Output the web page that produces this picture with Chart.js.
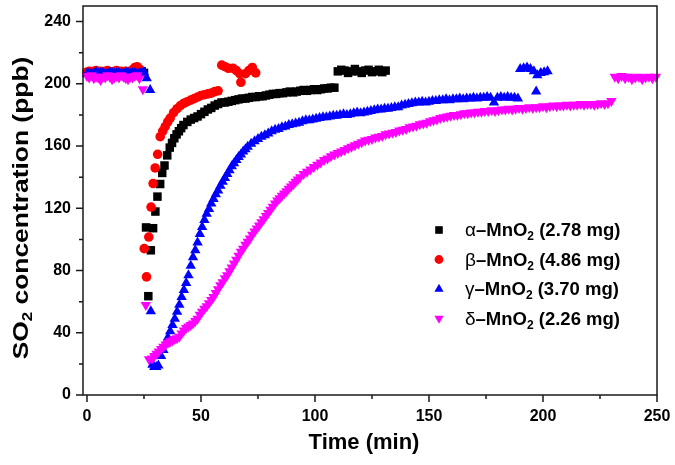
<!DOCTYPE html>
<html>
<head>
<meta charset="utf-8">
<script src="https://cdn.jsdelivr.net/npm/chart.js@4.4.0/dist/chart.umd.min.js"></script>
<style>
    html, body { margin: 0; padding: 0; background: #fff; }
</style>
</head>
<body>
<canvas id="so2Chart" width="675" height="465"></canvas>
<script>
// axis ticks
var xTicks = [0, 50, 100, 150, 200, 250];
var xMinorTicks = [25, 75, 125, 175, 225];
var yTicks = [0, 40, 80, 120, 160, 200, 240];
var yMinorTicks = [20, 60, 100, 140, 180, 220];

// legend
var seriesGreek = ['\u03b1', '\u03b2', '\u03b3', '\u03b4'];
var seriesMass = ['2.78', '4.86', '3.70', '2.26'];
var seriesColors = ['#000000', '#ff0000', '#0000ff', '#ff00ff'];

// alpha-MnO2 (min / ppb)
var alphaTime = [
    0, 1, 2, 3, 4, 5, 6, 7, 8, 9, 10, 11, 12, 13, 14, 15, 16, 17, 18, 19, 20, 21, 22, 23, 24, 25,
    25.9, 26.9, 28, 29, 30, 30.9, 32.1, 33, 34, 35.2, 36.3, 37.3, 38.3, 39.3, 40.3, 41.3, 42.3,
    44, 45.5, 47, 48.5, 50, 51.5, 53, 54.5, 56, 57.5, 59, 60.5, 62, 63.5, 65, 66.5, 68, 69.5, 71, 72.5, 74, 75.5,
    77, 78.5, 80, 81.5, 83, 84.5, 86, 87.5, 89, 90.5, 92, 93.5, 95, 96.5, 98, 99.5, 101, 102.5, 104, 105.5, 107, 108.5,
    110, 111.5, 113, 114.5, 116, 117.5, 119, 120.5, 122, 123.5, 125, 126.5, 128, 129.5, 131
];
var alphaSO2 = [
    207, 207.5, 207, 208, 207.5, 207, 207.5, 208, 207, 207, 207.5, 207, 208, 207.5, 207, 207, 208, 207.5, 207, 207.5, 208, 207.5, 207, 207.5, 208, 207,
    107.7, 63.5, 93, 107.2, 117.9, 127.5, 135.6, 142.7, 147.5, 154, 159, 162, 165, 167.5, 169.5, 171.5, 173.5,
    175.5, 177, 178, 179, 180.5, 182, 183.5, 184.5, 186, 187, 188, 188, 188.5, 189, 189.5, 190, 190.5, 190.5, 191, 191.5, 191.5,
    192, 192, 192.5, 193, 193.5, 193.5, 194, 194, 194.5, 195, 194.5, 195, 195.5, 196, 195.5, 196, 196.5, 196, 196.5, 197, 197, 197.5, 197.5,
    208, 209, 208.5, 207, 208, 209.5, 208, 207, 208.5, 209, 207.5, 208, 209, 207.5, 208.5
];

// beta-MnO2
var betaTime = [
    0, 1, 2, 3, 4, 5, 6, 7, 8, 9, 10, 11, 12, 13, 14, 15, 16, 17, 18, 19,
    20, 21, 22, 23, 24,
    25.1, 26.1, 27.1, 28.1, 29, 29.9, 31, 32.1, 33.2, 34.3, 35.4, 36.5,
    38, 39.5, 41, 42.5, 44, 45.5, 47, 48.5, 50, 51.5, 53, 54.5, 56, 57.5,
    59.1, 60.5, 62, 64, 65.5, 67, 67.5, 69.5, 71, 72.5, 74
];
var betaSO2 = [
    207.5, 208, 207.5, 208, 208.5, 207.5, 208, 207.5, 208, 208.5, 207.5, 207, 208, 208.5, 207.5, 208, 207.5, 208, 207, 208,
    209, 210.5, 211, 209.5, 207.5,
    94.1, 75.9, 101.5, 120.8, 135.9, 145.9, 154.7, 166, 169.5, 172.5, 175.5, 178,
    181.5, 184, 186, 187.5, 188.5, 189.5, 190.5, 191.5, 192.5, 193, 193.5, 194, 195, 195.5,
    212, 211, 210, 210, 208.5, 206.5, 201, 206.5, 208.5, 210.5, 207
];

// gamma-MnO2
var gammaTime = [
    0, 1, 2, 3, 4, 5, 6, 7, 8, 9, 10, 11, 12, 13, 14, 15, 16, 17, 18, 19, 20, 21, 22, 23, 24,
    25, 26.2, 27.7,
    28, 28.7, 29.5, 30.4, 31.3,
    32.5, 33.5, 34.5, 35.5, 36.5, 37.5, 38.5, 39.5, 40.5, 41.5, 42.5, 43.5, 44.5, 45.5, 46.5, 47.5, 48.5, 49.5, 50.5, 51.5,
    52.5, 53.5, 54.5, 55.5, 56.5, 57.5, 58.5, 59.5, 60.5, 61.5, 62.5, 63.5, 64.5, 65.5, 66.5, 67.5, 68.5, 69.5, 70.5,
    72, 73.5, 75, 76.5, 78, 79.5, 81, 82.5, 84, 85.5, 87, 88.5, 90, 91.5, 93, 94.5, 96, 97.5, 99, 100.5,
    102, 103.5, 105, 106.5, 108, 109.5, 111, 112.5, 114, 115.5, 117, 118.5, 120, 121.5, 123, 124.5, 126, 127.5, 129, 130.5,
    132, 133.5, 135, 136.5, 138, 139.5, 141, 142.5, 144, 145.5, 147, 148.5, 150, 151.5, 153, 154.5, 156, 157.5, 159, 160.5,
    162, 163.5, 165, 166.5, 168, 169.5, 171, 172.5, 174, 175.5, 177, 178.5, 180, 181.5, 183, 184.5, 186, 187.5, 189,
    190, 191.5, 193, 194.5, 196, 197, 197.5, 199, 200.5, 202
];
var gammaSO2 = [
    206.5, 207, 206.5, 207, 207.5, 206.5, 207, 207, 206.5, 207, 207.5, 207, 206.5, 207, 207, 206.5, 207, 207.5, 207, 206.5, 207, 207, 206.5, 207, 207.5,
    207.5, 203.5, 196,
    53.9, 19.5, 18, 18, 19,
    25, 29, 33, 37, 41, 45, 49, 53.5, 58, 63, 67.5, 72, 77, 83, 88.5, 93, 98, 103.5, 108, 112.5,
    116.5, 119.5, 123, 126, 129, 131.5, 134.5, 137, 139.5, 142, 144.5, 147, 149, 151, 153, 154.5, 156.5, 158, 159.5,
    161.5, 163, 164.5, 166, 167, 168, 169.5, 170.5, 171, 172, 172.5, 173.5, 174, 174.5, 175, 176, 176.5, 176.5, 177, 177.5,
    178, 178.5, 178.5, 179, 179.5, 179.5, 180, 180.5, 180, 180.5, 181, 181.5, 181, 181.5, 182, 182.5, 183, 183.5, 183.5, 184,
    184, 184.5, 185, 185, 186, 186.5, 187, 187.5, 188, 188, 188.5, 188, 188.5, 189, 189, 189.5, 189.5, 190, 189.5, 190,
    190, 190.5, 190, 190.5, 190.5, 191, 190.5, 191, 191, 191.5, 191, 188, 191, 191.5, 191, 191.5, 191, 191, 190.5,
    209.5, 210, 210.5, 209.5, 208, 195, 205.5, 207, 207.5, 208
];

// delta-MnO2
var deltaTime = [
    0, 1, 2, 3, 4, 5, 6, 7, 8, 9, 10, 11, 12, 13, 14, 15, 16, 17, 18, 19, 20, 21, 22, 23,
    24.5, 25.8, 27.2,
    28.5, 29.5, 30.5, 31.5, 32.5, 33.5, 34.5, 35.5, 36.5, 37.5, 38.5, 39.5, 40.5, 41.5, 42.5, 43.5, 44.5, 45.5, 46.5, 47.5,
    48.5, 49.5, 50.5, 51.5, 52.5, 53.5, 54.5, 55.5, 56.5, 57.5, 58.5, 59.5, 60.5, 61.5, 62.5, 63.5, 64.5, 65.5, 66.5, 67.5,
    68.5, 69.5, 70.5, 71.5, 72.5, 73.5, 74.5, 75.5, 76.5, 77.5, 78.5, 79.5, 80.5, 81.5, 82.5, 83.5, 84.5, 85.5, 86.5, 87.5,
    88.5, 89.5, 90.5, 91.5, 92.5, 93.5,
    95, 96.5, 98, 99.5, 101, 102.5, 104, 105.5, 107,
    108.5, 110, 111.5, 113, 114.5, 116, 117.5, 119, 120.5, 122, 123.5, 125, 126.5, 128, 129.5, 131, 132.5, 134, 135.5, 137,
    138.5, 140, 141.5, 143, 144.5, 146, 147.5, 149, 150.5, 152, 153.5, 155, 156.5, 158, 159.5, 161, 162.5, 164, 165.5, 167,
    168.5, 170, 171.5, 173, 174.5, 176, 177.5, 179, 180.5, 182, 183.5, 185, 186.5, 188, 189.5, 191, 192.5, 194, 195.5, 197,
    198.5, 200, 201.5, 203, 204.5, 206, 207.5, 209, 210.5, 212, 213.5, 215, 216.5, 218, 219.5, 221, 222.5, 224, 225.5, 227,
    228.5, 230,
    231.5, 233, 234.5, 236, 237.5, 239, 240.5, 242, 243.5, 245, 246.5, 248, 249.5
];
var deltaSO2 = [
    205, 204, 205.5, 203.5, 204.5, 204, 202.5, 204.5, 204, 205.5, 204.5, 203, 204, 205, 204, 205.5, 204.5, 203.5, 203, 204.5, 204, 205, 205.5, 203.5,
    196.5, 57.8, 23,
    23.5, 25, 26.5, 28, 29.5, 31, 32.5, 33.5, 34.5, 35, 36, 36.5, 37.5, 39.5, 41.5, 43, 44, 45, 46, 47.5,
    49, 51.5, 53.5, 55.5, 57, 59, 61, 63, 65.5, 68, 70.5, 72.5, 75, 77, 79.5, 82, 84.5, 87, 89.5, 92,
    94, 96.5, 98.5, 100.5, 103, 105, 107, 109, 111, 113, 115, 117, 119, 121, 123, 125, 126.5, 128, 129.5, 131,
    132.5, 134, 135.5, 137, 138.5, 140,
    142, 143.5, 145, 146.5, 148, 149.5, 151, 152, 153.5,
    154.5, 155.5, 156.5, 157.5, 158.5, 159.5, 160.5, 161.5, 162.5, 163.5, 164, 164.5, 165.5, 166, 166.5, 167.5, 168, 168.5, 169, 170,
    170.5, 171, 172, 172.5, 173, 174, 174.5, 175, 176, 176.5, 177, 178, 178.5, 179, 179.5, 180, 180, 180.5, 181, 181,
    181.5, 181.5, 182, 182, 182.5, 182.5, 183, 182.5, 183, 183.5, 183.5, 184, 183.5, 184, 184.5, 184, 184.5, 185, 184.5, 185,
    185, 185.5, 185, 185.5, 186, 185.5, 186, 186, 186.5, 186, 186.5, 186.5, 187, 186.5, 187, 187, 186.5, 187, 187.5, 187,
    187.5, 189,
    204.5, 203.5, 205, 203.5, 204.5, 203, 204, 204.5, 203, 204, 204.5, 203.5, 204.5
];

var FONT = '"Liberation Sans", Arial, sans-serif';

function toPoints(times, values) {
    if (times.length !== values.length) {
        console.log('length mismatch', times.length, values.length);
    }
    return times.map(function (t, i) { return { x: t, y: values[i] }; });
}

// text made of pieces, for the subscript "2" (MnO2, SO2)
function drawPieces(ctx, pieces, x, y) {
    pieces.forEach(function (p) {
        ctx.font = p.font;
        ctx.fillText(p.text, x, y + (p.dy || 0));
        x += ctx.measureText(p.text).width;
    });
    return x;
}
function piecesWidth(ctx, pieces) {
    var w = 0;
    pieces.forEach(function (p) { ctx.font = p.font; w += ctx.measureText(p.text).width; });
    return w;
}

function drawMarker(ctx, i, x, y) {
    ctx.fillStyle = seriesColors[i];
    ctx.beginPath();
    if (i === 0) {
        ctx.rect(x - 3.8, y - 3.8, 7.6, 7.6);
    } else if (i === 1) {
        ctx.arc(x, y, 4.4, 0, Math.PI * 2);
    } else if (i === 2) {
        ctx.moveTo(x, y - 5.2); ctx.lineTo(x + 4.6, y + 2.8); ctx.lineTo(x - 4.6, y + 2.8);
    } else {
        ctx.moveTo(x, y + 5.2); ctx.lineTo(x + 4.6, y - 2.8); ctx.lineTo(x - 4.6, y - 2.8);
    }
    ctx.closePath();
    ctx.fill();
}

// scales keep no extra padding, so the plot box sits where the layout says
function noPadding(scale) {
    scale.paddingTop = 0;
    scale.paddingBottom = 0;
    scale.paddingLeft = 0;
    scale.paddingRight = 0;
}

var framePlugin = {
    id: 'frame',
    afterDraw: function (chart) {
        var ctx = chart.ctx;
        var a = chart.chartArea;
        var xs = chart.scales.x, ys = chart.scales.y;
        ctx.save();

        // box
        ctx.strokeStyle = '#1a1a1a';
        ctx.lineWidth = 1.5;
        ctx.strokeRect(a.left, a.top, a.right - a.left, a.bottom - a.top);

        // tick marks, outward
        ctx.beginPath();
        xTicks.forEach(function (v) {
            var px = xs.getPixelForValue(v);
            ctx.moveTo(px, a.bottom); ctx.lineTo(px, a.bottom + 7);
        });
        xMinorTicks.forEach(function (v) {
            var px = xs.getPixelForValue(v);
            ctx.moveTo(px, a.bottom); ctx.lineTo(px, a.bottom + 4);
        });
        yTicks.forEach(function (v) {
            var py = ys.getPixelForValue(v);
            ctx.moveTo(a.left, py); ctx.lineTo(a.left - 7, py);
        });
        yMinorTicks.forEach(function (v) {
            var py = ys.getPixelForValue(v);
            ctx.moveTo(a.left, py); ctx.lineTo(a.left - 4, py);
        });
        ctx.stroke();

        ctx.fillStyle = '#000';
        ctx.textBaseline = 'middle';

        // x title
        ctx.font = 'bold 22px ' + FONT;
        ctx.textAlign = 'center';
        ctx.fillText('Time (min)', 364, 443);

        // y title, rotated and a little stretched along its length
        var big = 'bold 22px ' + FONT, small = 'bold 14px ' + FONT;
        var yTitle = [
            { text: 'SO', font: big },
            { text: '2', font: small, dy: 6 },
            { text: ' concentration (ppb)', font: big }
        ];
        ctx.save();
        ctx.translate(22, 208);
        ctx.rotate(-Math.PI / 2);
        ctx.scale(1.2, 1);
        ctx.textAlign = 'left';
        drawPieces(ctx, yTitle, -piecesWidth(ctx, yTitle) / 2, 0);
        ctx.restore();

        // legend
        var rowY = [230, 259.5, 289, 318.5];
        ctx.textAlign = 'left';
        ctx.textBaseline = 'alphabetic';
        for (var i = 0; i < 4; i++) {
            drawMarker(ctx, i, 439, rowY[i]);
            ctx.fillStyle = '#000';
            drawPieces(ctx, [
                { text: seriesGreek[i], font: '19px ' + FONT },
                { text: '\u2013MnO', font: 'bold 18.5px ' + FONT },
                { text: '2', font: 'bold 12px ' + FONT, dy: 4 },
                { text: ' (' + seriesMass[i] + ' mg)', font: 'bold 18.5px ' + FONT }
            ], 465, rowY[i] + 6);
        }
        ctx.restore();
    }
};

var ctx = document.getElementById('so2Chart');
new Chart(ctx, {
    type: 'scatter',
    data: {
        datasets: [{
            label: 'alpha',
            data: toPoints(alphaTime, alphaSO2),
            pointStyle: 'rect',
            pointRadius: 6,
            backgroundColor: seriesColors[0],
            borderWidth: 0,
            order: 4
        }, {
            label: 'beta',
            data: toPoints(betaTime, betaSO2),
            pointStyle: 'circle',
            pointRadius: 4.8,
            backgroundColor: seriesColors[1],
            borderWidth: 0,
            order: 3
        }, {
            label: 'gamma',
            data: toPoints(gammaTime, gammaSO2),
            pointStyle: 'triangle',
            pointRadius: 6,
            backgroundColor: seriesColors[2],
            borderWidth: 0,
            order: 2
        }, {
            label: 'delta',
            data: toPoints(deltaTime, deltaSO2),
            pointStyle: 'triangle',
            pointRotation: 180,
            pointRadius: 6,
            backgroundColor: seriesColors[3],
            borderWidth: 0,
            order: 1
        }]
    },
    options: {
        responsive: false,
        animation: false,
        clip: false,
        layout: { padding: { top: 4, right: 18, left: 0, bottom: 0 } },
        plugins: {
            legend: { display: false },
            tooltip: { enabled: false }
        },
        scales: {
            x: {
                type: 'linear',
                min: -1.75,
                max: 250,
                grid: { display: false, drawTicks: false },
                border: { display: false },
                afterBuildTicks: function (scale) {
                    scale.ticks = xTicks.map(function (v) { return { value: v }; });
                },
                afterFit: function (scale) {
                    scale.height = 70;
                    noPadding(scale);
                },
                ticks: {
                    padding: 12,
                    color: '#000',
                    maxRotation: 0,
                    autoSkip: false,
                    font: { family: FONT, size: 16, weight: 'bold' }
                }
            },
            y: {
                type: 'linear',
                min: 0,
                max: 250,
                grid: { display: false, drawTicks: false },
                border: { display: false },
                afterBuildTicks: function (scale) {
                    scale.ticks = yTicks.map(function (v) { return { value: v }; });
                },
                afterFit: function (scale) {
                    scale.width = 83;
                    noPadding(scale);
                },
                ticks: {
                    padding: 12,
                    color: '#000',
                    autoSkip: false,
                    font: { family: FONT, size: 16, weight: 'bold' }
                }
            }
        }
    },
    plugins: [framePlugin]
});
</script>
</body>
</html>
